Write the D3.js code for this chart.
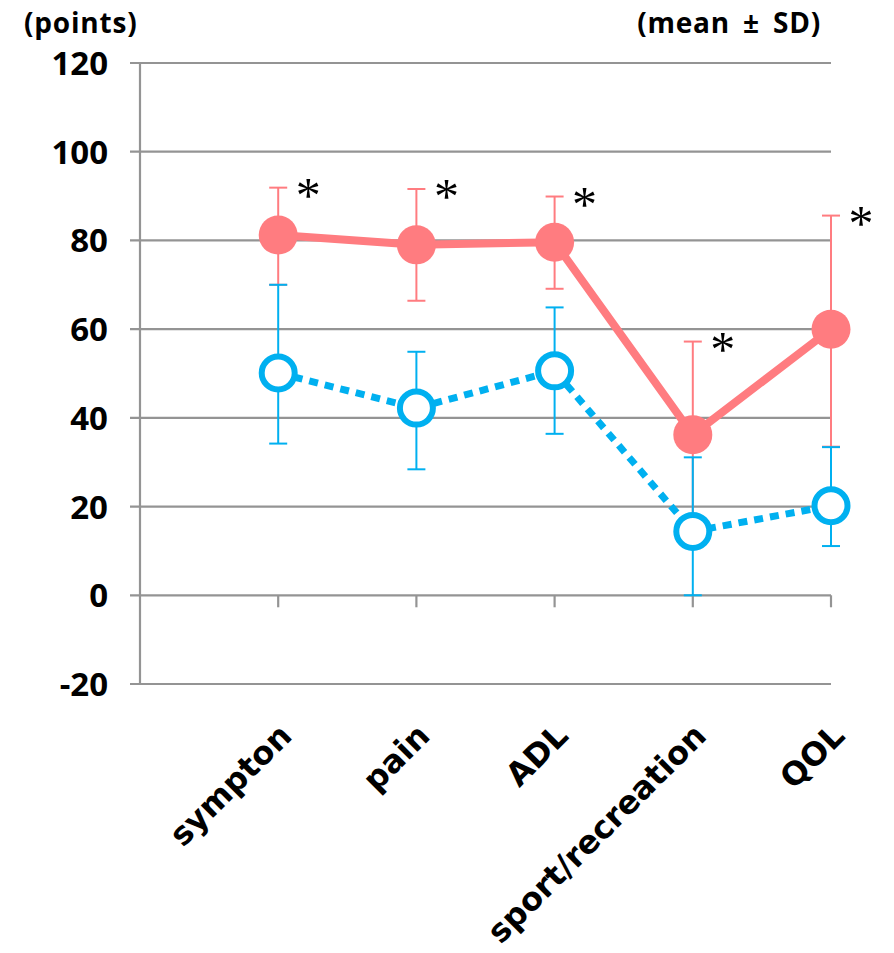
<!DOCTYPE html>
<html>
<head>
<meta charset="utf-8">
<script src="https://cdn.jsdelivr.net/npm/d3@7"></script>
<style>
  html, body { margin: 0; padding: 0; background: #fff; }
  svg { display: block; }
</style>
</head>
<body>
<svg id="chart" width="894" height="953"></svg>
<script>
// ---- data ----
const categories = ["sympton", "pain", "ADL", "sport/recreation", "QOL"];
const redMean  = [81.2, 79.0, 79.6, 36.2, 60.0];
const redUpper = [91.9, 91.6, 89.9, 57.2, 85.6];
const redLower = [70.0, 66.4, 69.1, 15.2, 33.5];
const blueMean  = [50.1, 42.2, 50.6, 14.4, 20.2];
const blueUpper = [70.0, 54.9, 64.9, 31.1, 33.4];
const blueLower = [34.2, 28.4, 36.4, 0.0, 11.1];
const significant = [true, true, true, true, true];
const yTicks = [-20, 0, 20, 40, 60, 80, 100, 120];
const yUnitLabel = "(points)";
const noteLabel = "(mean ± SD)";

// ---- scales ----
const svg = d3.select("#chart");
const y = d3.scaleLinear().domain([-20, 120]).range([684, 63]);
const x = d3.scaleLinear().domain([-1, categories.length - 1]).range([140, 831]);

const gridColor = "#949494";
const red = "#FF7C80";
const blue = "#00B0F0";

// gridlines (with left tick stubs)
svg.append("g").selectAll("line").data(yTicks).join("line")
  .attr("x1", 130).attr("x2", x(categories.length - 1))
  .attr("y1", d => y(d)).attr("y2", d => y(d))
  .attr("stroke", gridColor).attr("stroke-width", 2.2);

// y axis line
svg.append("line")
  .attr("x1", x(-1)).attr("x2", x(-1))
  .attr("y1", y(120)).attr("y2", y(-20))
  .attr("stroke", gridColor).attr("stroke-width", 2.2);

// category tick marks below zero line
svg.append("g").selectAll("line").data(categories).join("line")
  .attr("x1", (d, i) => x(i)).attr("x2", (d, i) => x(i))
  .attr("y1", y(0)).attr("y2", y(0) + 12)
  .attr("stroke", gridColor).attr("stroke-width", 2.2);

// y tick labels
svg.append("g").selectAll("text").data(yTicks).join("text")
  .attr("x", 108).attr("y", d => y(d) + 12)
  .attr("text-anchor", "end")
  .attr("font-family", "'Open Sans', sans-serif")
  .attr("font-weight", 700).attr("font-size", 33)
  .attr("fill", "#000")
  .text(d => d);

// top labels
svg.append("text").attr("x", 24).attr("y", 33)
  .attr("font-family", "'Open Sans', sans-serif").attr("font-weight", 700)
  .attr("font-size", 28).attr("letter-spacing", 0.8).text(yUnitLabel);
svg.append("text").attr("x", 821).attr("y", 33).attr("text-anchor", "end")
  .attr("font-family", "'Open Sans', sans-serif").attr("font-weight", 700)
  .attr("font-size", 28).attr("letter-spacing", 0.8).attr("word-spacing", 5)
  .text(noteLabel);

// category labels
svg.append("g").selectAll("text").data(categories).join("text")
  .attr("transform", (d, i) => `translate(${x(i) - 1},${y(0) + 126}) rotate(-45)`)
  .attr("text-anchor", "end")
  .attr("dy", "0.72em")
  .attr("font-family", "'DejaVu Sans', sans-serif")
  .attr("font-weight", 700).attr("font-size", 32)
  .text(d => d);

function drawSeries(mean, upper, lower, color, filled) {
  const g = svg.append("g");
  const idx = d3.range(mean.length);
  // error bars
  g.selectAll("line.err").data(idx).join("line")
    .attr("x1", i => x(i)).attr("x2", i => x(i))
    .attr("y1", i => y(upper[i])).attr("y2", i => y(lower[i]))
    .attr("stroke", color).attr("stroke-width", 2);
  g.selectAll("line.capu").data(idx).join("line")
    .attr("x1", i => x(i) - 9).attr("x2", i => x(i) + 9)
    .attr("y1", i => y(upper[i])).attr("y2", i => y(upper[i]))
    .attr("stroke", color).attr("stroke-width", 2);
  g.selectAll("line.capl").data(idx).join("line")
    .attr("x1", i => x(i) - 9).attr("x2", i => x(i) + 9)
    .attr("y1", i => y(lower[i])).attr("y2", i => y(lower[i]))
    .attr("stroke", color).attr("stroke-width", 2);
  // line
  const line = d3.line().x((d, i) => x(i)).y(d => y(d));
  const path = g.append("path").datum(mean)
    .attr("d", line).attr("fill", "none")
    .attr("stroke", color).attr("stroke-width", filled ? 8 : 7);
  if (!filled) path.attr("stroke-dasharray", "9,7");
  // markers
  g.selectAll("circle").data(mean).join("circle")
    .attr("cx", (d, i) => x(i)).attr("cy", d => y(d))
    .attr("r", filled ? 19.5 : 16.5)
    .attr("fill", filled ? color : "#fff")
    .attr("stroke", color).attr("stroke-width", filled ? 0 : 6);
}

drawSeries(redMean, redUpper, redLower, red, true);
drawSeries(blueMean, blueUpper, blueLower, blue, false);

// significance asterisks
svg.append("g").selectAll("text").data(categories.map((c, i) => i).filter(i => significant[i])).join("text")
  .attr("x", i => x(i) + 30).attr("y", i => y(redUpper[i]) + 24)
  .attr("text-anchor", "middle")
  .attr("font-family", "'Liberation Serif', serif")
  .attr("font-size", 50)
  .text("*");
</script>
</body>
</html>
